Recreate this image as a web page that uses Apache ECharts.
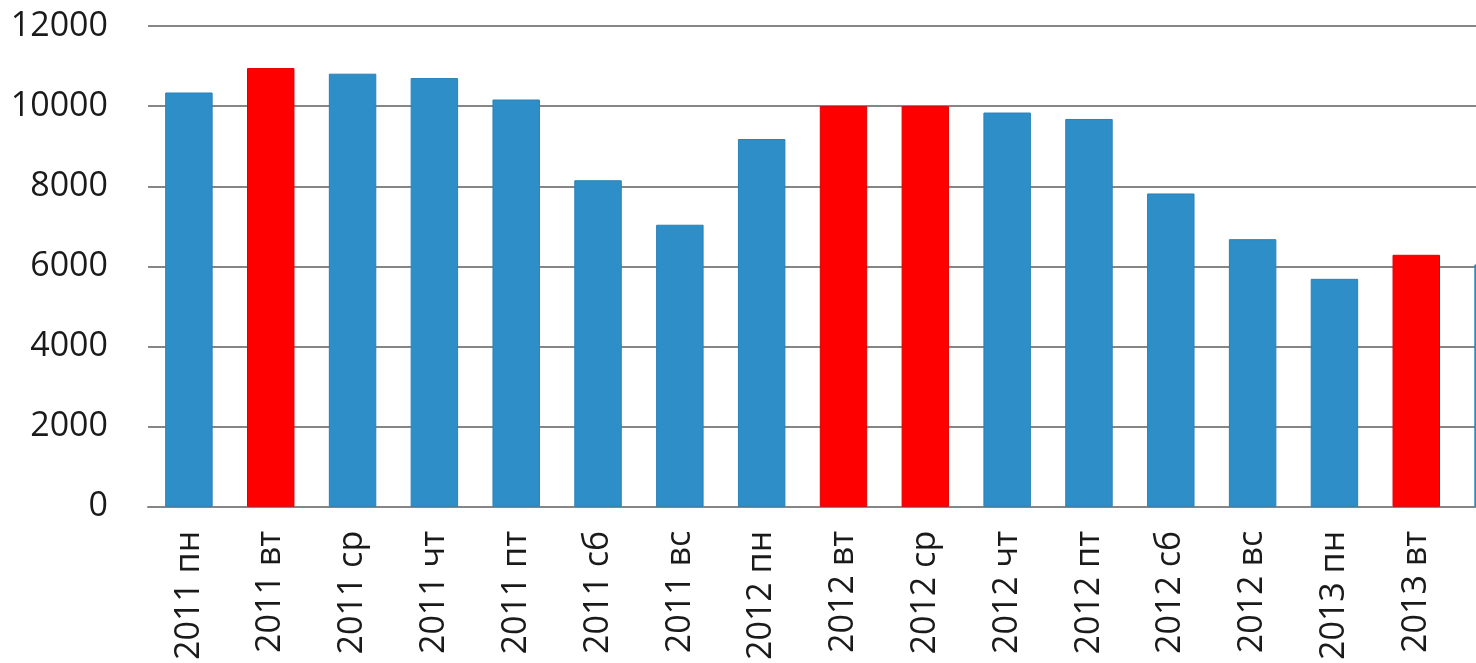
<!DOCTYPE html>
<html>
<head>
<meta charset="utf-8">
<script src="https://cdn.jsdelivr.net/npm/echarts@6/dist/echarts.min.js"></script>
<style>
html,body{margin:0;padding:0;background:#fff;overflow:hidden;width:1476px;height:663px;}
#chart{width:1539px;height:663px;}
</style>
</head>
<body>
<div id="chart"></div>
<script>
const categories = ['2011 пн','2011 вт','2011 ср','2011 чт','2011 пт','2011 сб','2011 вс','2012 пн','2012 вт','2012 ср','2012 чт','2012 пт','2012 сб','2012 вс','2013 пн','2013 вт','2013 ср'];
const values = [10340, 10950, 10810, 10700, 10165, 8150, 7040, 9180, 10000, 10000, 9840, 9680, 7820, 6680, 5690, 6290, 6050];
const highlighted = ['2011 вт','2012 вт','2012 ср','2013 вт'];
const yTicks = { min: 0, max: 12000, interval: 2000 };

const blue = '#2e8fc8';
const red = '#ff0000';

const chart = echarts.init(document.getElementById('chart'));
chart.setOption({
  animation: false,
  backgroundColor: '#ffffff',
  grid: { left: 148, top: 26, bottom: 155, right: 0, containLabel: false },
  xAxis: {
    type: 'category',
    data: categories,
    axisLine: { show: true, lineStyle: { color: '#868686', width: 2 } },
    axisTick: { show: false },
    axisLabel: {
      rotate: 90,
      margin: 24,
      interval: 0,
      color: '#1a1a1a',
      fontFamily: 'Open Sans',
      fontSize: 34
    }
  },
  yAxis: {
    type: 'value',
    min: yTicks.min,
    max: yTicks.max,
    interval: yTicks.interval,
    axisLine: { show: false },
    axisTick: { show: false },
    splitLine: { show: true, lineStyle: { color: '#868686', width: 2 } },
    axisLabel: {
      margin: 40,
      color: '#1a1a1a',
      fontFamily: 'Open Sans',
      fontSize: 34,
      formatter: v => String(v)
    }
  },
  series: [{
    type: 'bar',
    barWidth: '58%',
    data: values.map((v, i) => {
      const isRed = highlighted.includes(categories[i]);
      return {
        value: v,
        itemStyle: {
          color: isRed ? red : blue,
          borderColor: isRed ? '#e00000' : '#2a80b6',
          borderWidth: 1
        }
      };
    })
  }]
});
</script>
</body>
</html>
